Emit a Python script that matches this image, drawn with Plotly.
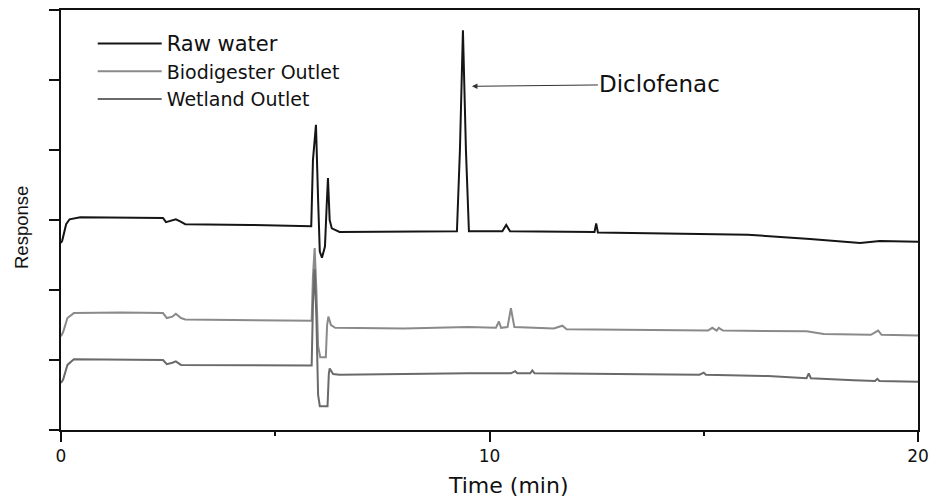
import plotly.graph_objects as go

# Retention time (min) and response (arbitrary units)
raw_t = [0, 0.03, 0.12, 0.2, 0.45, 1.4, 2.38, 2.45, 2.6, 2.68, 2.78, 2.9, 4.41, 5.84,
         5.88, 5.95, 6.0, 6.04, 6.09, 6.16, 6.2, 6.23, 6.27, 6.32, 6.5, 8.0, 9.24,
         9.31, 9.38, 9.45, 9.52, 10.3, 10.39, 10.48, 12.45, 12.49, 12.53, 14.9,
         16.03, 17.48, 18.18, 18.65, 19.11, 20]
raw_y = [2.67, 2.71, 2.94, 3.01, 3.04, 3.04, 3.03, 2.97, 2.99, 3.01, 2.98, 2.94, 2.93, 2.91,
         3.86, 4.36, 3.29, 2.55, 2.46, 2.62, 3.2, 3.6, 3.0, 2.88, 2.83, 2.83, 2.84,
         4.0, 5.71, 4.0, 2.84, 2.84, 2.93, 2.84, 2.83, 2.95, 2.82, 2.80,
         2.79, 2.73, 2.69, 2.67, 2.70, 2.69]

bio_t = [0, 0.05, 0.15, 0.3, 1.4, 2.38, 2.47, 2.6, 2.68, 2.8, 2.9, 5.85, 5.88, 5.92,
         5.96, 6.0, 6.05, 6.18, 6.21, 6.24, 6.3, 6.4, 8.0, 9.5, 10.15, 10.22, 10.27,
         10.42, 10.5, 10.58, 11.5, 11.7, 11.8, 15.1, 15.2, 15.3, 15.35, 15.45, 17.4,
         17.8, 18.9, 19.07, 19.15, 20]
bio_y = [1.34, 1.4, 1.6, 1.67, 1.68, 1.67, 1.6, 1.62, 1.66, 1.6, 1.58, 1.56, 2.2, 2.6,
         2.0, 1.2, 1.04, 1.04, 1.5, 1.62, 1.5, 1.46, 1.45, 1.47, 1.46, 1.55, 1.46,
         1.47, 1.74, 1.47, 1.45, 1.49, 1.44, 1.42, 1.46, 1.42, 1.46, 1.42, 1.41,
         1.37, 1.36, 1.42, 1.36, 1.35]

wet_t = [0, 0.05, 0.15, 0.3, 2.38, 2.47, 2.6, 2.68, 2.8, 5.85, 5.88, 5.92, 5.96, 6.0,
         6.04, 6.22, 6.25, 6.27, 6.35, 6.5, 9.5, 10.5, 10.6, 10.65, 10.95, 11.0, 11.05,
         14.9, 15.0, 15.05, 16.5, 17.4, 17.45, 17.5, 18.5, 19.0, 19.05, 19.1, 20]
wet_y = [0.67, 0.72, 0.93, 1.01, 1.0, 0.94, 0.96, 0.98, 0.93, 0.92, 1.8, 2.3, 1.6, 0.5,
         0.34, 0.34, 0.8, 0.88, 0.8, 0.79, 0.81, 0.81, 0.84, 0.81, 0.81, 0.85, 0.81,
         0.79, 0.82, 0.79, 0.77, 0.74, 0.81, 0.74, 0.71, 0.70, 0.73, 0.70, 0.69]

names = ["<span style='font-size:21px'>Raw water</span>", "Biodigester Outlet", "Wetland Outlet"]
colors = ["#151515", "#8a8a8a", "#6a6a6a"]

x_ticks = [0, 10, 20]
y_ticks = [0, 1, 2, 3, 4, 5, 6]

x_title = "Time (min)"
y_title = "Response"
peak_label = "Diclofenac"
peak_time = 9.59
peak_arrow_y = 4.91

WIDE = "DejaVu Sans, Verdana, sans-serif"
PLAIN = "Liberation Sans, Arial, sans-serif"

fig = go.Figure()
for t, y, n, c in zip([raw_t, bio_t, wet_t], [raw_y, bio_y, wet_y], names, colors):
    fig.add_trace(go.Scatter(x=t, y=y, name=n, mode="lines",
                             line=dict(color=c, width=2)))

fig.add_annotation(x=peak_time, y=peak_arrow_y, text=peak_label, showarrow=True,
                   ax=188, ay=-2, arrowhead=2, arrowsize=1.1, arrowwidth=1,
                   arrowcolor="#333333", font=dict(size=23, color="#111", family=WIDE))

# axis titles placed as in the reference (slightly off-centre)
fig.add_annotation(xref="paper", yref="paper", x=0.5216, y=-0.131, text=x_title,
                   showarrow=False, xanchor="center", yanchor="middle",
                   font=dict(size=22, color="#111", family=WIDE))
fig.add_annotation(xref="paper", yref="paper", x=-0.0455, y=0.481, text=y_title,
                   showarrow=False, xanchor="center", yanchor="middle", textangle=-90,
                   font=dict(size=18.5, color="#111", family=PLAIN))

fig.update_layout(
    width=932, height=497,
    margin=dict(l=61, r=14, t=10, b=67),
    paper_bgcolor="white", plot_bgcolor="white",
    font=dict(family=WIDE, color="#111", size=17),
    showlegend=True,
    legend=dict(x=0.037, y=0.965, xanchor="left", yanchor="top",
                bgcolor="rgba(0,0,0,0)", font=dict(size=19, family=WIDE),
                itemwidth=64, tracegroupgap=0),
    xaxis=dict(range=[0, 20], tickvals=x_ticks, ticktext=[str(v) for v in x_ticks],
               ticks="outside", ticklen=10, tickwidth=1.5, tickcolor="#111",
               minor=dict(dtick=5, ticks="outside", ticklen=4, tickwidth=1.5, tickcolor="#111"),
               showline=True, linecolor="#111", linewidth=1.5, mirror=True,
               showgrid=False, zeroline=False, automargin=False,
               tickfont=dict(size=17, family=WIDE)),
    yaxis=dict(range=[0, 6], tickvals=y_ticks, showticklabels=False,
               ticks="outside", ticklen=10, tickwidth=1.5, tickcolor="#111",
               showline=True, linecolor="#111", linewidth=1.5, mirror=True,
               showgrid=False, zeroline=False, automargin=False),
)

# remove the default page margin so the 932x497 figure fills the window exactly
fig.write_html("out.html", config={"displayModeBar": False},
               post_script="document.body.style.margin='0';document.body.style.overflow='hidden';")
